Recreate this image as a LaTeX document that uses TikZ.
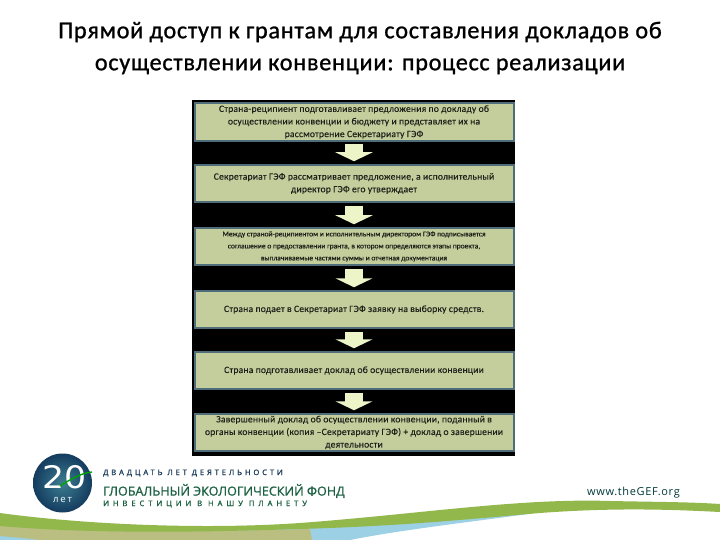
\documentclass[tikz,border=0pt]{standalone}
\usepackage{fontspec}
\setmainfont{Carlito}
\newfontfamily\titlefont[LetterSpace=3,FakeBold=1.0]{Carlito}
\newfontfamily\boxfont[LetterSpace=2,FakeBold=0.15]{Carlito}
\newfontfamily\smallfont[FakeBold=0.6]{Carlito}
\newfontfamily\logotop[LetterSpace=38,FakeBold=1.2]{Open Sans}
\newfontfamily\logobot[LetterSpace=52,FakeBold=1.2]{Open Sans}
\newfontfamily\logomain[FakeBold=1.0]{Open Sans}
\newfontfamily\webfont[LetterSpace=6]{Open Sans}
\newfontfamily\ballfont{DejaVu Sans}
\newfontfamily\ballsmall[LetterSpace=20]{Open Sans}
\usetikzlibrary{arrows.meta}
\definecolor{boxfill}{RGB}{195,206,156}
\definecolor{boxedge}{RGB}{78,108,122}
\definecolor{arrowfill}{RGB}{236,244,200}
\definecolor{bodytext}{RGB}{30,32,25}
\definecolor{logoblue}{RGB}{28,62,92}
\definecolor{logogreen}{RGB}{28,98,66}
\definecolor{ballcore}{RGB}{60,125,145}
\definecolor{balledge}{RGB}{20,60,95}
\definecolor{bandgreen}{RGB}{146,184,76}
\definecolor{bandtan}{RGB}{186,190,128}
\definecolor{bandblue}{RGB}{156,208,228}
\tikzset{
  x=1pt,y=-1pt,
  stepbox/.style={draw=boxedge,line width=2pt,fill=boxfill,minimum width=319pt,minimum height=37.5pt,
    inner sep=0pt,align=center,text=bodytext,font=\boxfont\fontsize{9.6}{12.6}\selectfont},
  smallbox/.style={stepbox,font=\smallfont\fontsize{7.5}{12}\selectfont},
  flowarrow/.style={draw=arrowfill,line width=18pt,-{Triangle[width=37pt,length=9pt,fill=arrowfill]},shorten >=2.5pt,shorten <=2.5pt},
  titletext/.style={font=\titlefont\fontsize{24.2}{32}\selectfont,text=black,align=center,inner sep=0pt},
}
\begin{document}
\begin{tikzpicture}
\useasboundingbox (0,0) rectangle (720,540);
\fill[white] (0,0) rectangle (720,540);
% title
\node[titletext] (title) at (360,48) {Прямой доступ к грантам для составления докладов об\\осуществлении конвенции: процесс реализации};
% flow panel
\fill[black] (192,100) rectangle (515,456);
\node[stepbox] (b1) at (354,122) {Страна-реципиент подготавливает предложения по докладу об\\осуществлении конвенции и бюджету и представляет их на\\рассмотрение Секретариату ГЭФ};
\node[stepbox] (b2) at (354,183.5) {Секретариат ГЭФ рассматривает предложение, а исполнительный\\директор ГЭФ его утверждает};
\node[smallbox] (b3) at (354,246.5) {Между страной-реципиентом и исполнительным директором ГЭФ подписывается\\соглашение о предоставлении гранта, в котором определяются этапы проекта,\\выплачиваемые частями суммы и отчетная документация};
\node[stepbox] (b4) at (354,309.5) {Страна подает в Секретариат ГЭФ заявку на выборку средств.};
\node[stepbox] (b5) at (354,370.5) {Страна подготавливает доклад об осуществлении конвенции};
\node[stepbox] (b6) at (354,432.5) {Завершенный доклад об осуществлении конвенции, поданный в\\органы конвенции (копия –Секретариату ГЭФ) + доклад о завершении\\деятельности};
\foreach \a/\b in {b1/b2,b2/b3,b3/b4,b4/b5,b5/b6}
  \draw[flowarrow] (\a.south) -- (\b.north);
% bottom bands
\fill[bandblue] (0,540) -- (0,530) -- (300,525) .. controls (400,520) and (480,515) .. (528,514) .. controls (470,522) and (400,530) .. (350,540) -- cycle;
\fill[bandtan] (0,525) .. controls (100,532) and (200,532) .. (310,529) -- (312,540) -- (40,540) .. controls (25,538) and (10,537) .. (0,536) -- cycle;
\fill[bandgreen] (0,513) .. controls (80,524) and (200,530) .. (300,523)
  .. controls (420,514) and (520,498) .. (610,501) .. controls (660,502) and (690,502) .. (720,504)
  -- (720,512) .. controls (680,510) and (620,507) .. (540,513)
  .. controls (460,520) and (400,526) .. (300,529) .. controls (180,533) and (80,533) .. (0,526) -- cycle;
% logo ball
\shade[inner color=ballcore,outer color=balledge] (62.5,483) circle (29.5);
\node[inner sep=0pt,text=white,font=\ballfont\fontsize{31}{31}\selectfont,xscale=1.12] (twenty) at (64.5,477) {20};
\draw[green!65!black,line width=1.4pt] (60,486) .. controls (68,481) and (80,473) .. (92,472);
\node[inner sep=0pt,text=white,font=\ballsmall\fontsize{9.5}{9.5}\selectfont] (years) at (62.5,499.5) {лет};
% logo text
\node[anchor=west,inner sep=0pt,text=logoblue,font=\logotop\fontsize{7.6}{9}\selectfont] (l1) at (103,473) {ДВАДЦАТЬ ЛЕТ ДЕЯТЕЛЬНОСТИ};
\node[anchor=west,inner sep=0pt,text=logogreen,font=\logomain\fontsize{12.6}{15}\selectfont] (l2) at (103,491) {ГЛОБАЛЬНЫЙ ЭКОЛОГИЧЕСКИЙ ФОНД};
\node[anchor=west,inner sep=0pt,text=logogreen,font=\logobot\fontsize{7.6}{9}\selectfont] (l3) at (103,504) {ИНВЕСТИЦИИ В НАШУ ПЛАНЕТУ};
\node[anchor=east,inner sep=0pt,text=black!55!teal,font=\webfont\fontsize{11}{12}\selectfont] (web) at (680,492.5) {www.theGEF.org};
\end{tikzpicture}
\end{document}
